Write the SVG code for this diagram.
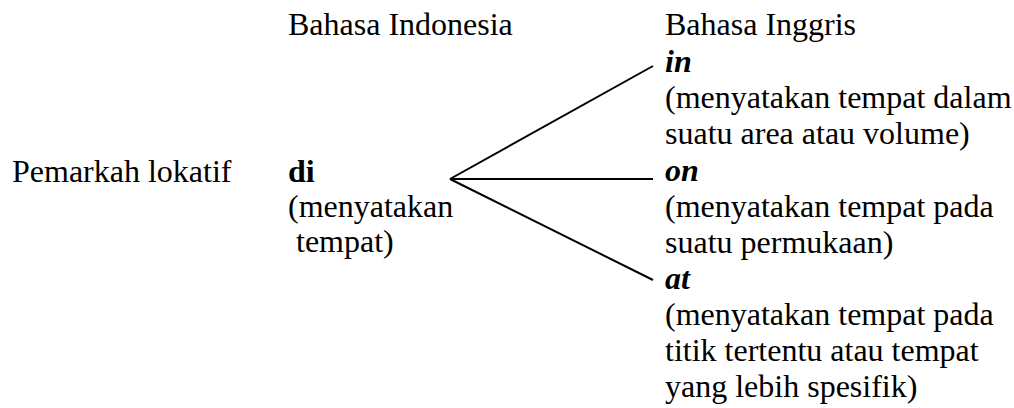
<svg xmlns="http://www.w3.org/2000/svg" width="1014" height="408" viewBox="0 0 1014 408">
<style>
text{font-family:"Liberation Serif","Times New Roman",serif;font-size:32px;fill:#000}
.b{font-weight:bold}
.bi{font-weight:bold;font-style:italic}
.ln{stroke:#000;stroke-width:2;fill:none}
</style>
<rect width="1014" height="408" fill="#fff"/>
<g id="headers">
<text x="288" y="35">Bahasa Indonesia</text>
<text x="665" y="35">Bahasa Inggris</text>
</g>
<g id="label">
<text x="12" y="182">Pemarkah lokatif</text>
</g>
<g id="node-di">
<text x="288" y="182" class="b">di</text>
<text x="288" y="217">(menyatakan</text>
<text x="296" y="252">tempat)</text>
</g>
<g id="node-in">
<text x="665" y="72" class="bi">in</text>
<text x="665" y="108">(menyatakan tempat dalam</text>
<text x="665" y="144">suatu area atau volume)</text>
</g>
<g id="node-on">
<text x="665" y="181" class="bi">on</text>
<text x="665" y="217">(menyatakan tempat pada</text>
<text x="665" y="253">suatu permukaan)</text>
</g>
<g id="node-at">
<text x="665" y="289" class="bi">at</text>
<text x="665" y="325">(menyatakan tempat pada</text>
<text x="665" y="361">titik tertentu atau tempat</text>
<text x="665" y="397">yang lebih spesifik)</text>
</g>
<g id="connectors">
<line class="ln" x1="450" y1="179" x2="653" y2="66"/>
<line class="ln" x1="450" y1="179" x2="653" y2="179"/>
<line class="ln" x1="450" y1="179" x2="653" y2="280"/>
</g>
</svg>
